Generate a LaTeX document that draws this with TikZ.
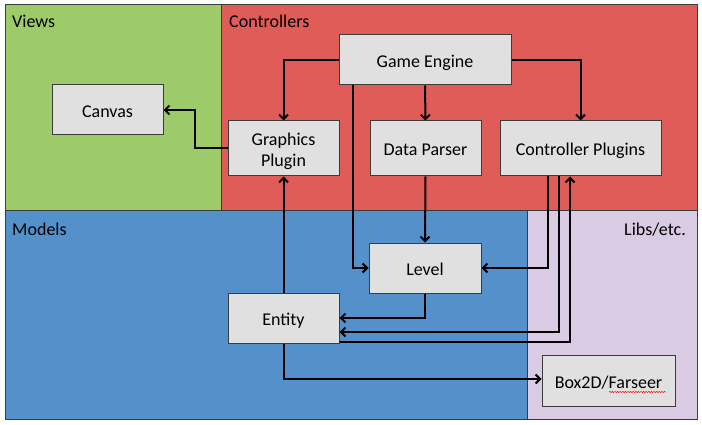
\documentclass[tikz,border=0pt]{standalone}
\usepackage{fontspec}
\setmainfont{Carlito}
\usetikzlibrary{arrows.meta,decorations.pathmorphing}
\definecolor{vgreen}{RGB}{158,203,106}
\definecolor{cred}{RGB}{224,92,88}
\definecolor{mblue}{RGB}{84,144,202}
\definecolor{llilac}{RGB}{217,203,227}
\definecolor{boxfill}{RGB}{224,224,224}
\definecolor{edge}{RGB}{60,60,60}
\tikzset{
  region/.style={draw=edge, line width=1pt},
  rlabel/.style={inner sep=0pt, font=\fontsize{18}{21.7}\selectfont},
  comp/.style={draw=edge, fill=boxfill, line width=1pt, inner sep=0pt,
    align=center, font=\fontsize{18}{21.7}\selectfont,
    text height=17pt, text depth=2pt},
  arr/.style={line width=2pt, -{Straight Barb[length=4.5pt,width=9pt]}},
}
\begin{document}
\begin{tikzpicture}[x=1pt,y=-1pt]
\useasboundingbox[fill=white] (0,0) rectangle (702,425);
% regions
\fill[vgreen] (5,5) rectangle (221,211);
\fill[cred] (221,5) rectangle (697,211);
\fill[mblue] (5,211) rectangle (527,419);
\fill[llilac] (527,211) rectangle (697,419);
\draw[region] (5,5) rectangle (221,211);
\draw[region] (221,5) rectangle (697,211);
\draw[region] (5,211) rectangle (527,419);
\draw[region] (527,211) rectangle (697,419);
\node[rlabel, anchor=base west] (lviews) at (12,28) {Views};
\node[rlabel, anchor=base west] (lctrl) at (229,28) {Controllers};
\node[rlabel, anchor=base west] (lmodels) at (12,235) {Models};
\node[rlabel, anchor=base east] (llibs) at (686,235) {Libs/etc.};
% components
\node[comp, minimum width=111pt, minimum height=50pt] (cv) at (107.5,110) {Canvas};
\node[comp, minimum width=111pt, minimum height=55pt, text height=38.5pt, text depth=2pt] (gp) at (283.5,148.5) {Graphics\\Plugin};
\node[comp, minimum width=172pt, minimum height=50pt] (ge) at (425,60) {Game Engine};
\node[comp, minimum width=111pt, minimum height=55pt] (dp) at (425.5,148.5) {Data Parser};
\node[comp, minimum width=161pt, minimum height=55pt] (cp) at (580.5,148.5) {Controller Plugins};
\node[comp, minimum width=112pt, minimum height=50pt] (lv) at (425,268) {Level};
\node[comp, minimum width=111pt, minimum height=50pt] (en) at (283.5,318) {Entity};
\node[comp, minimum width=133pt, minimum height=51pt] (bx) at (608.5,380.5) {Box2D/Farseer};
% spell-check squiggle
\draw[red, line width=0.5pt, decorate, decoration={snake, amplitude=0.6pt, segment length=2.6pt}] (609,392) -- (666,392);
% connectors
\coordinate (cvj) at (195,110);
\draw[arr] (gp.west) -| (cvj) -- (cv.east);
\draw[arr] (ge.west) -| (gp.north);
\draw[arr] (ge.south) -- (dp.north);
\draw[arr] (ge.east) -| (cp.north);
\draw[arr] ([xshift=-72pt]ge.south) |- (lv.west);
\draw[arr] (dp.south) -- (lv.north);
\draw[arr] ([xshift=-32.5pt]cp.south) |- (lv.east);
\draw[arr] (lv.south) |- (en.east);
\draw[arr] ([xshift=-21.5pt]cp.south) |- ([yshift=-14pt]en.east);
\draw[arr] ([yshift=-24pt]en.east) -| ([xshift=-10.5pt]cp.south);
\draw[arr] (en.north) -- (gp.south);
\draw[arr] (en.south) |- ([yshift=1.5pt]bx.west);
\end{tikzpicture}
\end{document}
